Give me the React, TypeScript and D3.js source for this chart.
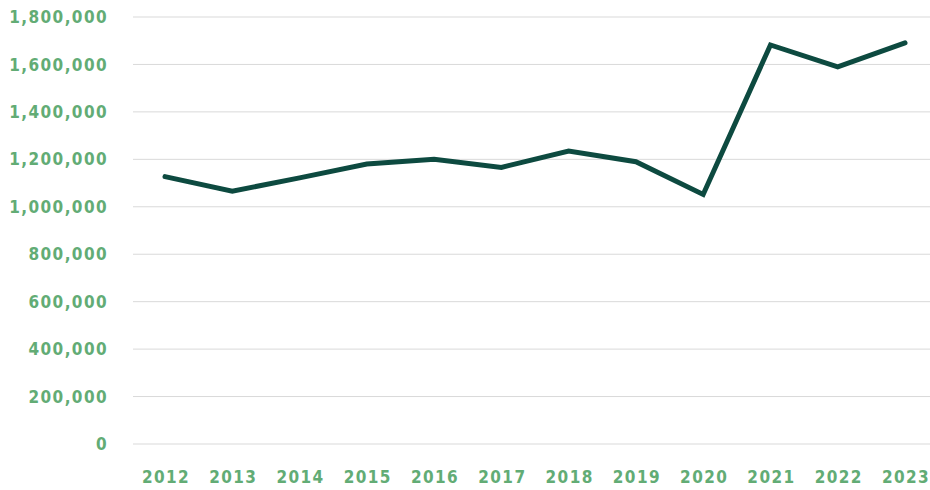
import React from "react";
import * as d3 from "d3";

const years = ["2012","2013","2014","2015","2016","2017","2018","2019","2020","2021","2022","2023"];
const values = [1127000,1066000,1122000,1180000,1200000,1166000,1235000,1190000,1052000,1682000,1590000,1691000];
const yTicks = [0,200000,400000,600000,800000,1000000,1200000,1400000,1600000,1800000];

export default function App() {
  const W = 930, H = 490;
  const x = d3.scalePoint<string>().domain(years).range([165, 905]);
  const y = d3.scaleLinear().domain([0, 1800000]).range([444, 17]);
  const line = d3.line<number>().x((_, i) => x(years[i])!).y(d => y(d));
  const fmt = d3.format(",");
  const labelColor = "#62ac75";
  const font = "'DejaVu Sans Condensed', 'DejaVu Sans', sans-serif";
  return (
    <svg width={W} height={H} style={{ position: "absolute", left: 0, top: 0, background: "#fff" }}>
      {yTicks.map(t => (
        <g key={t}>
          <line x1={133} x2={930} y1={y(t)} y2={y(t)} stroke="#d9d9d9" strokeWidth={1} />
          <text x={108} y={y(t)} dy="0.36em" textAnchor="end" fill={labelColor}
            fontFamily={font} fontWeight="bold" fontStretch="condensed" fontSize={17} letterSpacing={1.4}>{fmt(t)}</text>
        </g>
      ))}
      {years.map(yr => (
        <text key={yr} x={x(yr)! + 1} y={477} dy="0.36em" textAnchor="middle" fill={labelColor}
          fontFamily={font} fontWeight="bold" fontStretch="condensed" fontSize={17} letterSpacing={1.4}>{yr}</text>
      ))}
      <path d={line(values) || ""} fill="none" stroke="#0d4a40" strokeWidth={5}
        strokeLinejoin="miter" strokeLinecap="round" />
    </svg>
  );
}
